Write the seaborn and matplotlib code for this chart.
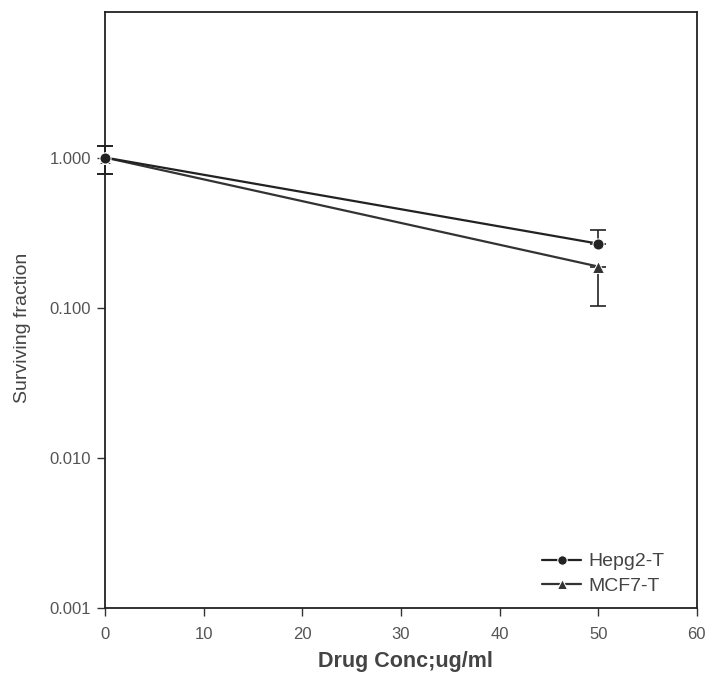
import matplotlib
matplotlib.use("Agg")
import matplotlib.pyplot as plt
import seaborn as sns
import pandas as pd
import numpy as np
from matplotlib import font_manager

conc = [0, 50]
hepg2 = [1.0, 0.267]
hepg2_err_lo = [0.22, 0.0]
hepg2_err_hi = [0.20, 0.06]
mcf7 = [1.0, 0.188]
mcf7_err_lo = [0.22, 0.085]
mcf7_err_hi = [0.20, 0.0]
series = ["Hepg2-T", "MCF7-T"]
yticks = [0.001, 0.01, 0.1, 1.0]
ytick_labels = ["0.001", "0.010", "0.100", "1.000"]
xticks = [0, 10, 20, 30, 40, 50, 60]

sns.set_theme(style="white")
plt.rcParams['font.family'] = ['Liberation Sans', 'DejaVu Sans']

names = {f.name for f in font_manager.fontManager.ttflist}
narrow = [n for n in ["Liberation Sans Narrow", "DejaVu Sans Condensed"] if n in names]
label_family = narrow + ['Liberation Sans', 'DejaVu Sans']

df = pd.DataFrame({
    "conc": conc * 2,
    "frac": hepg2 + mcf7,
    "series": [series[0]] * 2 + [series[1]] * 2,
})

fig = plt.figure(figsize=(7.06, 6.76), dpi=100)
ax = fig.add_axes([0.149, 0.1006, 0.838, 0.8814])

sns.lineplot(data=df, x="conc", y="frac", hue="series", style="series",
             markers={"Hepg2-T": "o", "MCF7-T": "^"}, dashes=False,
             palette={"Hepg2-T": "#222222", "MCF7-T": "#333333"},
             markersize=8, linewidth=1.6, ax=ax)
for i, ln in enumerate(ax.lines):
    ln.set_clip_on(False)
    ln.set_zorder(6 if i == 0 else 5)

ax.errorbar(conc, hepg2, yerr=[hepg2_err_lo, hepg2_err_hi], fmt="none",
            ecolor="#222222", elinewidth=1.2, capsize=6, capthick=1.2, clip_on=False)
ax.errorbar(conc, mcf7, yerr=[mcf7_err_lo, mcf7_err_hi], fmt="none",
            ecolor="#222222", elinewidth=1.2, capsize=6, capthick=1.2, clip_on=False)

ax.set_yscale("log")
ax.set_ylim(0.001, 9.3)
ax.set_xlim(0, 60)
ax.set_yticks(yticks)
ax.set_yticklabels(ytick_labels)
ax.yaxis.set_minor_locator(matplotlib.ticker.NullLocator())
ax.set_xticks(xticks)
ax.tick_params(axis="both", direction="out", length=6, width=1, colors="#333333",
               labelsize=12, left=True, bottom=True)
ax.tick_params(axis="x", pad=8)
ax.tick_params(axis="y", pad=4)
for lab in ax.get_xticklabels() + ax.get_yticklabels():
    lab.set_color("#555555")

for s in ax.spines.values():
    s.set_color("#222222")
    s.set_linewidth(1.3)

ax.set_xlabel("Drug Conc;ug/ml", fontsize=15.5, fontweight="bold", color="#444444")
ax.xaxis.set_label_coords(0.508, -0.072)
ax.set_ylabel("Surviving fraction", fontsize=14, color="#444444",
              family=label_family)
ax.yaxis.set_label_coords(-0.125, 0.47)

leg = ax.legend(loc="lower right", frameon=False, fontsize=14, handlelength=2.0,
                borderpad=0, borderaxespad=0, labelspacing=0.35, handletextpad=0.4,
                markerscale=0.85, bbox_to_anchor=(0.946, 0.022))
for t in leg.get_texts():
    t.set_color("#444444")

fig.savefig("out.png", dpi=100)
